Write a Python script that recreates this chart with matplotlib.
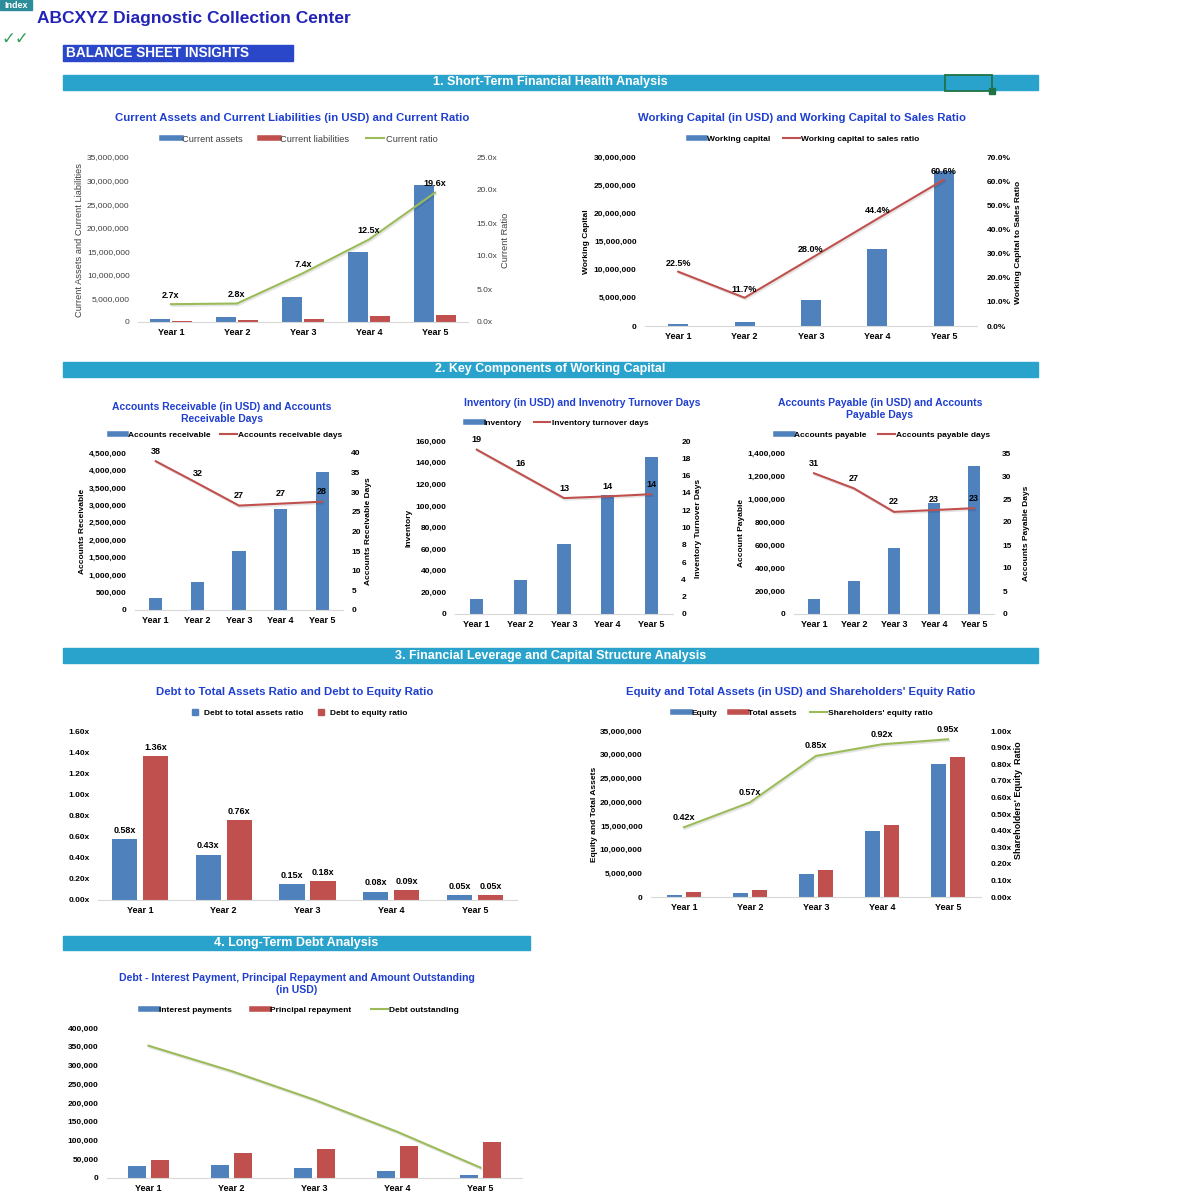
import numpy as np
import matplotlib
matplotlib.use('Agg')
import matplotlib.pyplot as plt
from matplotlib.lines import Line2D
from matplotlib.patches import Rectangle
import matplotlib.patheffects as pe

plt.rcParams['font.family'] = ['Liberation Sans', 'DejaVu Sans']

# ---- data ----
years = ['Year 1', 'Year 2', 'Year 3', 'Year 4', 'Year 5']

current_assets = [560000, 1130000, 5360000, 14800000, 29000000]
current_liabilities = [210000, 400000, 720000, 1180000, 1480000]
current_ratio = [2.7, 2.8, 7.4, 12.5, 19.6]

working_capital = [350000, 730000, 4640000, 13600000, 27500000]
wc_to_sales = [22.5, 11.7, 28.0, 44.4, 60.6]

accounts_receivable = [335000, 800000, 1690000, 2890000, 3960000]
ar_days = [37.9, 32.3, 26.6, 27.1, 27.6]

inventory = [14200, 31900, 64700, 109600, 145500]
inventory_days = [19.0, 16.2, 13.4, 13.6, 13.85]

accounts_payable = [128000, 289000, 577000, 965000, 1286000]
ap_days = [30.6, 27.3, 22.2, 22.6, 23.0]

debt_to_assets = [0.58, 0.43, 0.15, 0.08, 0.05]
debt_to_equity = [1.36, 0.76, 0.18, 0.09, 0.05]

equity = [400000, 830000, 4930000, 14000000, 28100000]
total_assets = [950000, 1460000, 5780000, 15200000, 29500000]
equity_ratio = [0.42, 0.57, 0.85, 0.92, 0.95]

interest_payments = [31200, 35600, 26700, 18700, 7100]
principal_repayment = [47200, 67700, 76600, 85500, 95300]
debt_outstanding = [352800, 285100, 208500, 123000, 27700]

BLUE = '#4F81BD'
RED = '#C0504D'
GREEN = '#9BBB59'
TITLE = '#1F3FD0'
BAR_BG = '#29A3CC'

W = H = 1200
fig = plt.figure(figsize=(12, 12), dpi=100)
x = np.arange(len(years))


def fx(v):
    return v / W


def fy(v):
    return 1 - v / H


def ftext(px, py, s, **kw):
    kw.setdefault('ha', 'center')
    kw.setdefault('va', 'center')
    fig.text(fx(px), fy(py), s, **kw)


def frect(x0, y0, x1, y1, **kw):
    fig.add_artist(Rectangle((fx(x0), fy(y1)), fx(x1 - x0), (y1 - y0) / H,
                             transform=fig.transFigure, **kw))


def set_yticks(ax, ymax, step, fmt, bold, color, pad):
    t = np.arange(0, ymax + step / 2, step)
    ax.set_ylim(0, ymax)
    ax.set_yticks(t)
    ax.set_yticklabels([fmt(v) for v in t], fontsize=6,
                       fontweight='bold' if bold else 'normal', color=color)
    ax.tick_params(axis='y', length=0, pad=pad)


def chart(left, right, top, bottom, ymax, step, fmt, bold=True, color='black', pad=5):
    ax = fig.add_axes([fx(left), fy(bottom), fx(right - left), (bottom - top) / H])
    ax.set_xlim(-0.5, 4.5)
    set_yticks(ax, ymax, step, fmt, bold, color, pad)
    for s in ['top', 'right', 'left']:
        ax.spines[s].set_visible(False)
    ax.spines['bottom'].set_color('#D9D9D9')
    ax.set_xticks(x)
    ax.set_xticklabels(years, fontsize=6.5, fontweight='bold')
    ax.tick_params(axis='x', length=0, pad=4)
    ax.patch.set_alpha(0)
    return ax


def twin(ax, ymax, step, fmt, bold=True, color='black', pad=5):
    ax2 = ax.twinx()
    set_yticks(ax2, ymax, step, fmt, bold, color, pad)
    for s in ax2.spines.values():
        s.set_visible(False)
    return ax2


def legend(px, py, handles, labels, bold=True, color='black', colsp=1.6, size=6):
    leg = fig.legend(handles, labels, loc='center', bbox_to_anchor=(fx(px), fy(py)),
                     ncol=len(handles), frameon=False, handlelength=2.0,
                     handletextpad=0.15, columnspacing=colsp,
                     prop={'size': size, 'weight': 'bold' if bold else 'normal'})
    for t in leg.get_texts():
        t.set_color(color)


def bar_h(c):
    return Line2D([], [], color=c, lw=4)


def line_h(c):
    return Line2D([], [], color=c, lw=1.5)


shadow = [pe.SimpleLineShadow(offset=(0.8, -1.2), alpha=0.1, shadow_color='black'), pe.Normal()]


def labels(ax, vals, fmt, dy=3):
    for i, v in enumerate(vals):
        ax.annotate(fmt(v), (i, v), xytext=(0, dy), textcoords='offset points',
                    ha='center', va='bottom', fontsize=6.5, fontweight='bold')


def money(v):
    return '{:,.0f}'.format(v)


# ---- header ----
frect(0, 0, 32, 10, color='#2C8C99')
ftext(16, 5, 'Index', color='white', fontsize=6.5, fontweight='bold')
ftext(37, 19, 'ABCXYZ Diagnostic Collection Center', ha='left', color='#2323B8',
      fontsize=12.5, fontweight='bold')
ftext(2, 39, '✓✓', ha='left', color='#2E9E5B', fontsize=12, family=['DejaVu Sans'])
frect(63, 45, 293, 61, color='#2B47C9')
ftext(66, 53, 'BALANCE SHEET INSIGHTS', ha='left', color='white', fontsize=9.8, fontweight='bold')

sections = [(63, 1038, 75, 90, '1. Short-Term Financial Health Analysis'),
            (63, 1038, 362, 377, '2. Key Components of Working Capital'),
            (63, 1038, 648, 663, '3. Financial Leverage and Capital Structure Analysis'),
            (63, 530, 936, 950, '4. Long-Term Debt Analysis')]
for x0, x1, y0, y1, s in sections:
    frect(x0, y0, x1, y1, color=BAR_BG)
    ftext((x0 + x1) / 2, (y0 + y1) / 2, s, color='white', fontsize=9, fontweight='bold')
frect(945, 75, 992, 91, fill=False, edgecolor='#217346', lw=1.3)
frect(989, 88, 995, 94, color='#217346')

# ---- 1. current assets / liabilities / ratio ----
ax = chart(138, 468, 157, 322, 35e6, 5e6, money, bold=False, color='#404040', pad=6)
ax.bar(x - 0.17, current_assets, 0.3, color=BLUE)
ax.bar(x + 0.17, current_liabilities, 0.3, color=RED)
ax2 = twin(ax, 25, 5, lambda v: '{:.1f}x'.format(v), bold=False, color='#404040', pad=6)
ax2.plot(x, current_ratio, color=GREEN, lw=1.5, path_effects=shadow)
labels(ax2, current_ratio, lambda v: '{:.1f}x'.format(v))
ftext(292, 118, 'Current Assets and Current Liabilities (in USD) and Current Ratio',
      color=TITLE, fontsize=8.2, fontweight='bold')
legend(300, 139, [bar_h(BLUE), bar_h(RED), line_h(GREEN)],
       ['Current assets', 'Current liabilities', 'Current ratio'], bold=False, color='#404040',
       colsp=1.8, size=6.7)
ftext(80, 240, 'Current Assets and Current Liabilities', rotation=90, fontsize=6.7, color='#404040')
ftext(505, 240, 'Current Ratio', rotation=90, fontsize=6.7, color='#404040')

# ---- 2. working capital ----
ax = chart(645, 977, 157, 326, 30e6, 5e6, money, pad=6)
ax.bar(x, working_capital, 0.3, color=BLUE)
ax2 = twin(ax, 70, 10, lambda v: '{:.1f}%'.format(v), pad=7)
ax2.plot(x, wc_to_sales, color=RED, lw=1.5, path_effects=shadow)
labels(ax2, wc_to_sales, lambda v: '{:.1f}%'.format(v))
ftext(802, 118, 'Working Capital (in USD) and Working Capital to Sales Ratio',
      color=TITLE, fontsize=8.2, fontweight='bold')
legend(804, 139, [bar_h(BLUE), line_h(RED)], ['Working capital', 'Working capital to sales ratio'])
ftext(587, 242, 'Working Capital', rotation=90, fontsize=6, fontweight='bold')
ftext(1018, 242, 'Working Capital to Sales Ratio', rotation=90, fontsize=6, fontweight='bold')

# ---- 2a. accounts receivable ----
days = lambda v: '{:.0f}'.format(v)
ax = chart(135, 343, 453, 610, 4.5e6, 5e5, money, pad=6)
ax.bar(x, accounts_receivable, 0.32, color=BLUE)
ax2 = twin(ax, 40, 5, days, pad=6)
ax2.plot(x, ar_days, color=RED, lw=1.5, path_effects=shadow)
labels(ax2, ar_days, days, dy=4)
ftext(222, 413, 'Accounts Receivable (in USD) and Accounts\nReceivable Days',
      color=TITLE, fontsize=7.5, fontweight='bold', linespacing=1.15)
legend(226, 435, [bar_h(BLUE), line_h(RED)], ['Accounts receivable', 'Accounts receivable days'], colsp=1.2)
ftext(83, 531, 'Accounts Receivable', rotation=90, fontsize=6, fontweight='bold')
ftext(369, 531, 'Accounts Receivable Days', rotation=90, fontsize=6, fontweight='bold')

# ---- 2b. inventory ----
ax = chart(455, 673, 441, 614, 160000, 20000, money, pad=6)
ax.bar(x, inventory, 0.3, color=BLUE)
ax2 = twin(ax, 20, 2, days, pad=6)
ax2.plot(x, inventory_days, color=RED, lw=1.5, path_effects=shadow)
labels(ax2, inventory_days, days, dy=4)
ftext(582, 403, 'Inventory (in USD) and Invenotry Turnover Days',
      color=TITLE, fontsize=7.5, fontweight='bold')
legend(557, 423, [bar_h(BLUE), line_h(RED)], ['Inventory', 'Inventory turnover days'], colsp=1.4)
ftext(409, 528, 'Inventory', rotation=90, fontsize=6, fontweight='bold')
ftext(698, 528, 'Inventory Turnover Days', rotation=90, fontsize=6, fontweight='bold')

# ---- 2c. accounts payable ----
ax = chart(794, 994, 453, 614, 1.4e6, 2e5, money, pad=6)
ax.bar(x, accounts_payable, 0.32, color=BLUE)
ax2 = twin(ax, 35, 5, days, pad=6)
ax2.plot(x, ap_days, color=RED, lw=1.5, path_effects=shadow)
labels(ax2, ap_days, days, dy=4)
ftext(880, 409, 'Accounts Payable (in USD) and Accounts\nPayable Days',
      color=TITLE, fontsize=7.5, fontweight='bold', linespacing=1.15)
legend(883, 435, [bar_h(BLUE), line_h(RED)], ['Accounts payable', 'Accounts payable days'], colsp=1.4)
ftext(741, 533, 'Account Payable', rotation=90, fontsize=6, fontweight='bold')
ftext(1027, 533, 'Accounts Payable Days', rotation=90, fontsize=6, fontweight='bold')

# ---- 3a. debt ratios ----
ratio = lambda v: '{:.2f}x'.format(v)
ax = chart(98, 517, 731, 900, 1.6, 0.2, ratio, pad=6)
ax.bar(x - 0.185, debt_to_assets, 0.3, color=BLUE)
ax.bar(x + 0.185, debt_to_equity, 0.3, color=RED)
for i in range(5):
    ax.annotate(ratio(debt_to_assets[i]), (i - 0.185, debt_to_assets[i]), xytext=(0, 3),
                textcoords='offset points', ha='center', va='bottom', fontsize=6.5, fontweight='bold')
    ax.annotate(ratio(debt_to_equity[i]), (i + 0.185, debt_to_equity[i]), xytext=(0, 3),
                textcoords='offset points', ha='center', va='bottom', fontsize=6.5, fontweight='bold')
ftext(295, 692, 'Debt to Total Assets Ratio and Debt to Equity Ratio',
      color=TITLE, fontsize=8.2, fontweight='bold')
sq = lambda c: Line2D([], [], color=c, marker='s', ls='', markersize=4.5)
legend(297, 713, [sq(BLUE), sq(RED)], ['Debt to total assets ratio', 'Debt to equity ratio'], colsp=1.0)

# ---- 3b. equity and total assets ----
ax = chart(651, 981, 731, 897, 35e6, 5e6, money, pad=6)
ax.bar(x - 0.14, equity, 0.23, color=BLUE)
ax.bar(x + 0.14, total_assets, 0.23, color=RED)
ax2 = twin(ax, 1.0, 0.1, ratio, pad=7)
ax2.plot(x, equity_ratio, color=GREEN, lw=1.5, path_effects=shadow)
labels(ax2, equity_ratio, ratio, dy=4)
ftext(801, 692, "Equity and Total Assets (in USD) and Shareholders' Equity Ratio",
      color=TITLE, fontsize=8.2, fontweight='bold')
legend(803, 713, [bar_h(BLUE), bar_h(RED), line_h(GREEN)],
       ['Equity', 'Total assets', "Shareholders' equity ratio"])
ftext(594, 814, 'Equity and Total Assets', rotation=90, fontsize=6, fontweight='bold')
ftext(1018, 800, "Shareholders' Equity  Ratio", rotation=90, fontsize=6.5, fontweight='bold')

# ---- 4. long-term debt ----
ax = chart(107, 522, 1028, 1178, 400000, 50000, money, pad=6)
ax.bar(x - 0.14, interest_payments, 0.22, color=BLUE)
ax.bar(x + 0.14, principal_repayment, 0.22, color=RED)
ax.plot(x, debt_outstanding, color=GREEN, lw=1.5, path_effects=shadow)
ftext(297, 984, 'Debt - Interest Payment, Principal Repayment and Amount Outstanding\n(in USD)',
      color=TITLE, fontsize=7.6, fontweight='bold', linespacing=1.15)
legend(300, 1010, [bar_h(BLUE), bar_h(RED), line_h(GREEN)],
       ['Interest payments', 'Principal repayment', 'Debt outstanding'], colsp=2.4)

fig.savefig('out.png', dpi=100, facecolor='white')
